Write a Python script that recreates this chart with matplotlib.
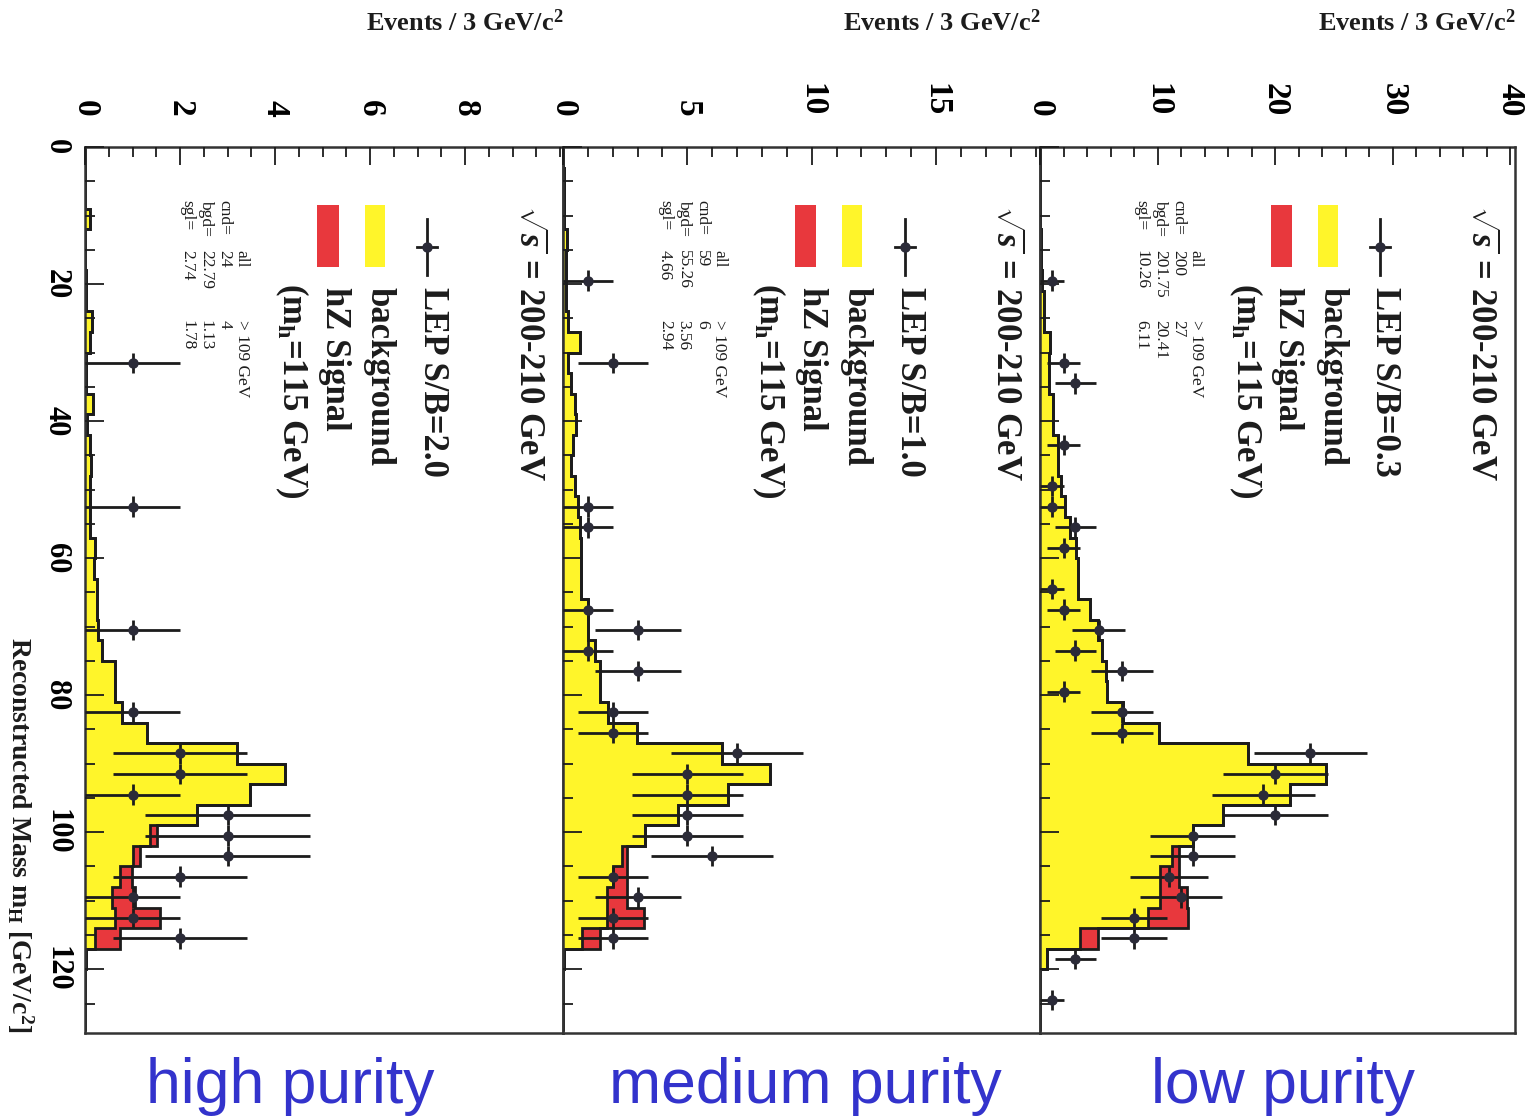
import numpy as np
import matplotlib
matplotlib.use("Agg")
import matplotlib.pyplot as plt
from matplotlib.patches import Rectangle

plt.rcParams['font.family'] = ['Liberation Serif', 'DejaVu Serif']
plt.rcParams['mathtext.fontset'] = 'custom'
plt.rcParams['mathtext.rm'] = 'Liberation Serif:bold'
plt.rcParams['mathtext.it'] = 'Liberation Serif:italic:bold'
plt.rcParams['mathtext.bf'] = 'Liberation Serif:bold'

# ---------------- data (3 GeV bins from 0 to 129 GeV) ----------------
mass_edges = np.arange(0, 130, 3)

high_bkg = [0, 0, 0, 0.1, 0, 0, 0.02, 0.03, 0.14, 0.1, 0.03, 0.03, 0.16, 0.05, 0.1,
            0.13, 0.1, 0.1, 0.1, 0.2, 0.18, 0.25, 0.25, 0.28, 0.35, 0.63, 0.63, 0.77,
            1.30, 3.19, 4.21, 3.47, 2.35, 1.36, 1.0, 0.74, 0.56, 0.63, 0.21, 0.03, 0, 0, 0]
high_sig = [0]*33 + [0.15, 0.16, 0.24, 0.49, 0.95, 0.53] + [0]*4
high_data = [0, 0, 0, 0, 0, 0, 0, 0, 0, 0, 1, 0, 0, 0, 0, 0, 0, 1, 0, 0, 0, 0, 0, 1,
             0, 0, 0, 1, 0, 2, 2, 1, 3, 3, 3, 2, 1, 1, 2, 0, 0, 0, 0]

mid_bkg = [0, 0.03, 0.04, 0.05, 0.17, 0.13, 0.13, 0.13, 0.2, 0.67, 0.2, 0.33, 0.47,
           0.54, 0.4, 0.33, 0.47, 0.6, 0.67, 0.74, 0.72, 0.72, 1.02, 1.02, 1.29, 1.5,
           1.5, 1.8, 2.96, 6.38, 8.32, 6.65, 4.64, 3.30, 2.36, 2.02, 1.76, 1.76, 0.75,
           0.06, 0, 0, 0]
mid_sig = [0]*34 + [0.2, 0.54, 0.8, 1.51, 0.74] + [0]*4
mid_data = [0, 0, 0, 0, 0, 0, 1, 0, 0, 0, 2, 0, 0, 0, 0, 0, 0, 1, 1, 0, 0, 0, 1, 3,
            1, 3, 0, 2, 2, 7, 5, 5, 5, 5, 6, 2, 3, 2, 2, 0, 0, 0, 0]

low_bkg = [0, 0, 0, 0.02, 0.05, 0.08, 0.2, 0.3, 0.35, 0.85, 0.8, 0.75, 1.13, 1.13,
           1.5, 1.5, 1.79, 2.13, 2.55, 3.1, 3.26, 3.26, 4.26, 4.96, 5.25, 5.6, 5.7,
           7.1, 10.1, 17.7, 24.3, 21.3, 15.6, 13.05, 11.2, 10.2, 10.2, 9.2, 3.4, 0.57,
           0, 0, 0]
low_sig = [0]*34 + [0.6, 1.6, 2.3, 3.4, 1.56] + [0]*4
low_data = [0, 0, 0, 0, 0, 0, 1, 0, 0, 0, 2, 3, 0, 0, 2, 0, 1, 1, 3, 2, 0, 1, 2, 5,
            3, 7, 2, 7, 7, 23, 20, 19, 20, 13, 13, 11, 12, 8, 8, 3, 0, 1, 0]

sb_ratio = ['2.0', '1.0', '0.3']
all_counts = [['24', '22.79', '2.74'], ['59', '55.26', '4.66'], ['200', '201.75', '10.26']]
cut_counts = [['4', '1.13', '1.78'], ['6', '3.56', '2.94'], ['27', '20.41', '6.11']]
purity_labels = ['high purity', 'medium purity', 'low purity']
event_ticks = [[0, 2, 4, 6, 8], [0, 5, 10, 15], [0, 10, 20, 30, 40]]
mass_ticks = [0, 20, 40, 60, 80, 100, 120]

# ---------------- styling ----------------
YEL = '#fff52a'
RED = '#e8383d'
INK = '#1c1c1c'
DOT = '#2b2b38'
BLUE = '#3333cc'

W, H = 1536, 1120
fig = plt.figure(figsize=(W/100, H/100), dpi=100)


def rect(x0, x1, y0=147, y1=1033):
    return [x0/W, 1 - y1/H, (x1 - x0)/W, (y1 - y0)/H]


panel_geo = [(85, 563), (563, 1040), (1040, 1515)]
x_max = [10.06, 19.18, 40.4]
minor_step = [0.5, 1, 2]
label_x = [290, 805, 1283]

bkgs = [high_bkg, mid_bkg, low_bkg]
sigs = [high_sig, mid_sig, low_sig]
datas = [high_data, mid_data, low_data]

centers = mass_edges[:-1] + 1.5

for k in range(3):
    ax = fig.add_axes(rect(*panel_geo[k]))
    bkg = np.array(bkgs[k], float)
    sig = np.array(sigs[k], float)
    tot = bkg + sig
    dat = np.array(datas[k], float)

    ax.stairs(tot, mass_edges, orientation='horizontal', fill=True, color=RED, lw=0, zorder=1)
    ax.stairs(bkg, mass_edges, orientation='horizontal', fill=True, color=YEL, lw=0, zorder=1.1)
    ax.stairs(bkg, mass_edges, orientation='horizontal', color=INK, lw=2.0, zorder=1.2)
    ax.stairs(tot, mass_edges, orientation='horizontal', color=INK, lw=2.0, zorder=1.3)

    m = dat > 0
    ax.errorbar(dat[m], centers[m], xerr=np.sqrt(dat[m]), yerr=1.5, fmt='o',
                ms=6.5, color=DOT, ecolor=INK, elinewidth=2.0, capsize=0, zorder=4)

    ax.set_xlim(0, x_max[k])
    ax.set_ylim(129.3, 0)
    ax.set_axisbelow(False)

    ax.xaxis.tick_top()
    ax.set_xticks(event_ticks[k])
    ax.set_xticks(np.arange(0, x_max[k], minor_step[k]), minor=True)
    ax.set_yticks(mass_ticks)
    ax.set_yticks(np.arange(0, 129.3, 5), minor=True)
    ax.tick_params(axis='x', which='both', direction='in', top=True, bottom=False,
                   labeltop=True, labelbottom=False, color=INK, width=1.3)
    ax.tick_params(axis='x', which='major', length=13, pad=22, labelsize=24)
    ax.tick_params(axis='x', which='minor', length=7)
    ax.tick_params(axis='y', which='both', direction='in', left=True, right=False,
                   labelleft=(k == 0), color=INK, width=1.3)
    ax.tick_params(axis='y', which='major', length=14, pad=10, labelsize=22)
    ax.tick_params(axis='y', which='minor', length=7)
    for lbl in ax.get_xticklabels():
        lbl.set_rotation(-90)
        lbl.set_fontweight('bold')
        lbl.set_va('bottom')
    for lbl in ax.get_yticklabels():
        lbl.set_rotation(-90)
        lbl.set_fontweight('bold')
        lbl.set_va('center')
    for s in ax.spines.values():
        s.set_linewidth(1.8)
        s.set_color('#333333')

    tr = ax.transAxes
    # axis title (horizontal in the rotated figure)
    ax.text(1.0, 1.14, r'Events / 3 GeV/c$^{2}$', transform=tr, ha='right', va='center',
            fontsize=19, fontweight='bold', color=INK)

    # legend block
    ax.text(0.926, 0.935, r'$\sqrt{s}$ = 200-210 GeV', transform=tr, rotation=-90,
            ha='center', va='top', fontsize=25, fontweight='bold', color=INK)
    ax.plot([0.716, 0.716], [0.887 - 0.032, 0.887 + 0.032], transform=tr, color=INK, lw=2)
    ax.plot([0.716 - 0.021, 0.716 + 0.021], [0.887, 0.887], transform=tr, color=INK, lw=2)
    ax.plot([0.716], [0.887], 'o', transform=tr, color=DOT, ms=6.5)
    ax.text(0.726, 0.842, 'LEP S/B=' + sb_ratio[k], transform=tr, rotation=-90,
            ha='center', va='top', fontsize=25, fontweight='bold', color=INK)
    ax.add_patch(Rectangle((0.585, 0.865), 0.042, 0.07, transform=tr, facecolor=YEL,
                           edgecolor='none'))
    ax.text(0.615, 0.842, 'background', transform=tr, rotation=-90,
            ha='center', va='top', fontsize=25, fontweight='bold', color=INK)
    ax.add_patch(Rectangle((0.486, 0.865), 0.045, 0.07, transform=tr, facecolor=RED,
                           edgecolor='none'))
    ax.text(0.522, 0.842, 'hZ Signal', transform=tr, rotation=-90,
            ha='center', va='top', fontsize=25, fontweight='bold', color=INK)
    ax.text(0.432, 0.847, r'(m$_{\rm h}$=115 GeV)', transform=tr, rotation=-90,
            ha='center', va='top', fontsize=25, fontweight='bold', color=INK)

    # small table
    tfs = 12.5
    ax.text(0.328, 0.884, 'all', transform=tr, rotation=-90, ha='center', va='top',
            fontsize=tfs, color=INK)
    ax.text(0.328, 0.805, '> 109 GeV', transform=tr, rotation=-90, ha='center', va='top',
            fontsize=tfs, color=INK)
    for j, (name, xx) in enumerate(zip(['cnd=', 'bgd=', 'sgl='], [0.292, 0.253, 0.214])):
        ax.text(xx, 0.940, name, transform=tr, rotation=-90, ha='center', va='top',
                fontsize=tfs, color=INK)
        ax.text(xx, 0.884, all_counts[k][j], transform=tr, rotation=-90, ha='center',
                va='top', fontsize=tfs, color=INK)
        ax.text(xx, 0.805, cut_counts[k][j], transform=tr, rotation=-90, ha='center',
                va='top', fontsize=tfs, color=INK)

    fig.text(label_x[k]/W, 1 - 1103/H, purity_labels[k], ha='center', va='baseline',
             fontsize=45, color=BLUE, family='Liberation Sans')

fig.text(20/W, 1 - 1033/H, r'Reconstructed Mass m$_{\rm H}$ [GeV/c$^{2}$]', rotation=-90,
         ha='center', va='bottom', fontsize=20, fontweight='bold', color=INK)

fig.savefig('out.png', dpi=100, facecolor='white')
